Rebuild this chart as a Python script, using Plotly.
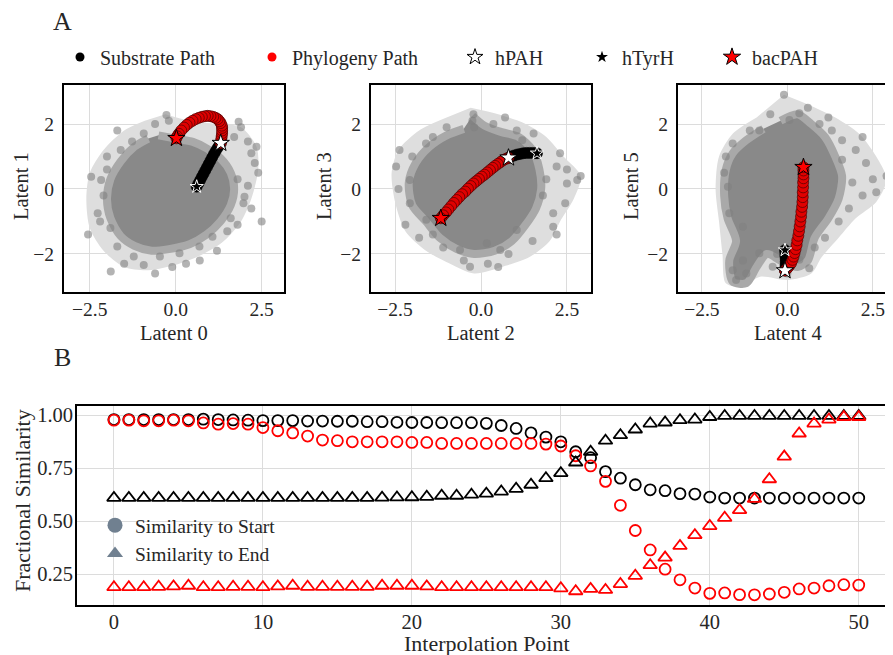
import plotly.graph_objects as go

# the page body adds an 8 px margin, so the figure is drawn 8 px smaller and offset
OFF = 8
FW, FH = 893 - OFF, 655 - OFF
FONT = "Liberation Serif, Times New Roman, Times, serif"
TXT = "#262626"
GRID = "#dcdcdc"
CORE = "#898989"
CORE_EDGE = "#a9a9a9"
HALO = "#dedede"
CLOUD = "#808080"

# ---------------- Panel A : latent-space clouds (outlines / points read approximately) -------------
# outline of the sparse (light) part of each cloud
p1_halo_x = [-0.3, 0.4, 1.2, 1.9, 2.35, 2.4, 2.2, 1.9, 1.4, 0.8, 0.1, -0.8, -1.5, -2.1, -2.5, -2.6, -2.5, -2.1, -1.5, -0.9]
p1_halo_y = [2.3, 2.1, 2.0, 1.9, 1.3, 0.6, -0.3, -1.0, -1.6, -2.0, -2.3, -2.5, -2.4, -1.9, -1.2, -0.3, 0.5, 1.2, 1.8, 2.1]
p2_halo_x = [-0.3, 0.5, 1.3, 1.9, 2.4, 2.9, 2.7, 2.3, 2.0, 1.4, 0.6, -0.2, -0.9, -1.6, -2.2, -2.5, -2.6, -2.4, -1.8, -1.0]
p2_halo_y = [2.5, 2.3, 2.0, 1.6, 1.0, 0.4, -0.3, -1.0, -1.6, -2.1, -2.4, -2.6, -2.3, -1.9, -1.3, -0.4, 0.5, 1.2, 1.8, 2.2]
p3_halo_x = [-0.1, 0.6, 1.4, 2.1, 2.6, 2.9, 2.6, 2.0, 1.5, 1.0, 0.7, 0.0, -0.8, -1.3, -1.8, -1.9, -2.0, -2.1, -2.0, -1.6, -0.9]
p3_halo_y = [2.9, 2.6, 2.2, 1.7, 1.0, 0.3, -0.4, -0.9, -1.5, -2.1, -2.6, -2.8, -2.7, -3.0, -2.9, -2.0, -1.0, 0.0, 1.0, 1.7, 2.2]

# outline of the dense (dark) core of each cloud
p1_core_x = [-0.5, 0.0, 0.5, 0.9, 1.3, 1.6, 1.7, 1.6, 1.3, 0.9, 0.4, -0.2, -0.7, -1.2, -1.6, -1.9, -2.0, -1.9, -1.6, -1.2, -0.8]
p1_core_y = [1.65, 1.55, 1.45, 1.25, 0.95, 0.5, 0.0, -0.5, -1.0, -1.4, -1.7, -1.85, -1.9, -1.75, -1.45, -0.9, -0.3, 0.3, 0.85, 1.3, 1.55]
p2_core_x = [-0.25, 0.1, 0.6, 1.1, 1.5, 1.7, 1.75, 1.6, 1.3, 0.9, 0.4, -0.2, -0.7, -1.2, -1.6, -2.0, -2.1, -1.9, -1.5, -1.0, -0.5]
p2_core_y = [2.25, 1.95, 1.75, 1.6, 1.2, 0.6, 0.0, -0.6, -1.1, -1.6, -1.9, -2.0, -1.85, -1.5, -1.0, -0.5, 0.2, 0.8, 1.3, 1.65, 1.85]
p3_core_x = [-0.2, 0.3, 0.7, 1.1, 1.4, 1.6, 1.5, 1.2, 0.8, 0.6, 0.3, -0.2, -0.6, -0.9, -1.2, -1.6, -1.7, -1.5, -1.75, -1.85,
             -1.8, -1.6, -1.2, -0.7]
p3_core_y = [2.1, 2.3, 2.0, 1.6, 1.0, 0.4, -0.3, -0.9, -1.5, -2.2, -2.4, -2.2, -2.0, -2.4, -2.9, -2.85, -2.2, -1.6, -0.9, -0.2,
             0.6, 1.1, 1.5, 1.85]

# sparse outer points of each cloud
p1_pts_x = [-2.55, -2.46, -2.17, -2.27, -2.0, -1.9, -2.1, -1.7, -1.27, -0.93, -0.6, -0.27, -0.2, 1.83, 1.9, 2.1, 2.2, 2.3,
            2.35, 1.7, 1.8, 2.0, 1.97, 2.1, 1.6, 1.5, 1.07, 0.69, 0.11, -0.46, -0.93, -1.22, -1.7, -1.89, -0.6, 0.3,
            1.2, 2.5, -1.5, -2.2, -1.6, -2.0, 2.4, 1.4, 0.7, -0.1, 1.8, 2.2]
p1_pts_y = [-1.4, 0.38, 0.28, -0.75, 0.6, -1.2, -0.2, 1.8, 1.46, 1.71, 2.0, 2.28, 2.1, 2.07, 1.9, 1.46, 1.1, 0.8,
            1.3, 1.6, 0.3, -0.24, -0.44, 0.1, -0.9, -1.3, -1.47, -1.77, -1.98, -2.08, -2.34, -2.08, -1.77, -2.54, -2.6, -2.3,
            -1.9, -1.0, -2.3, -1.0, 1.2, 1.0, 0.5, 1.9, -2.2, -2.4, -1.1, -0.6]
p2_pts_x = [-2.47, -2.37, -2.07, -2.07, -1.59, -2.2, -2.0, -1.8, -1.4, -1.0, -0.22, -0.25, -0.2, 0.36, 1.04, 1.53, 0.7,
            2.2, 2.5, 2.45, 2.1, 2.1, 2.8, 2.9, 2.5, 2.2, 1.9, 1.8, -0.61, 0.17, 0.56, -0.32, 1.04, 0.8, 0.2, -1.1, -1.4,
            1.5, 0.5, -0.5, 2.3, 1.2, -2.4, -1.6]
p2_pts_y = [0.69, 1.2, 0.28, -0.44, -0.95, -1.1, 1.0, -1.5, 1.6, 1.9, 2.3, 2.1, 1.9, 2.0, 1.8, 1.71, 2.2,
            0.69, 0.17, -0.44, -0.75, -1.16, 0.28, 0.4, 0.6, -1.4, 0.3, -0.2, -1.88, -1.67, -1.88, -2.39, -1.26, -2.0, -2.3,
            -1.8, -1.4, -1.6, -2.4, -2.2, 1.1, 1.5, 0.0, 1.4]
p3_pts_x = [-1.8, -1.74, -1.7, -1.85, -1.6, -1.3, -1.5, -1.6, -1.3, -1.2, -0.82, -0.43, 0.35, 0.64, 0.35, 0.06, -0.82,
            0.94, -0.1, 0.6, 1.3, 1.6, 2.0, 2.3, 2.5, 2.9, 2.2, 1.8, 1.5, 1.9, 1.1, 0.8, -0.3, 1.2, -0.5, 2.2, 1.6, 2.6,
            -1.1, 0.0]
p3_pts_y = [1.0, 0.07, -0.75, 0.5, 1.4, -1.16, -2.8, -2.5, -2.2, -2.6, -1.98, -2.39, -2.18, -2.44, 2.33, 2.12, 1.8,
            2.0, 2.9, 2.5, 1.8, 1.5, 1.2, 0.8, 0.3, 0.4, -0.2, -0.6, -1.0, 0.2, -1.5, -1.8, -2.0, 2.2, 2.3, 1.6, 0.9, -0.1,
            1.8, -2.6]

# interpolation paths (read along the drawn bands)
p1_sub_x = [1.31, 1.26, 1.21, 1.16, 1.11, 1.06, 1.01, 0.96, 0.91, 0.86, 0.81, 0.76, 0.71, 0.66, 0.61]
p1_sub_y = [1.41, 1.33, 1.25, 1.16, 1.07, 0.97, 0.87, 0.77, 0.67, 0.57, 0.47, 0.37, 0.27, 0.17, 0.07]
p1_phy_x = [1.31, 1.32, 1.33, 1.34, 1.35, 1.35, 1.35, 1.34, 1.31, 1.27, 1.22, 1.16, 1.09, 1.01, 0.93, 0.85, 0.76,
            0.67, 0.58, 0.49, 0.40, 0.32, 0.24, 0.16, 0.09, 0.04, 0.02]
p1_phy_y = [1.41, 1.48, 1.56, 1.64, 1.72, 1.80, 1.88, 1.95, 2.03, 2.09, 2.15, 2.19, 2.22, 2.24, 2.25, 2.24, 2.22,
            2.19, 2.15, 2.10, 2.04, 1.97, 1.89, 1.80, 1.70, 1.62, 1.56]
p2_sub_x = [0.80, 0.88, 0.96, 1.05, 1.14, 1.23, 1.32, 1.41, 1.50, 1.57, 1.63]
p2_sub_y = [0.96, 1.00, 1.03, 1.06, 1.08, 1.10, 1.11, 1.11, 1.11, 1.10, 1.10]
p2_phy_x = [0.80, 0.73, 0.65, 0.57, 0.49, 0.41, 0.34, 0.26, 0.18, 0.10, 0.02, -0.06, -0.14, -0.22, -0.30, -0.38,
            -0.46, -0.55, -0.63, -0.71, -0.79, -0.87, -0.95, -1.02, -1.10, -1.17]
p2_phy_y = [0.96, 0.93, 0.89, 0.83, 0.77, 0.71, 0.65, 0.58, 0.51, 0.44, 0.38, 0.31, 0.24, 0.17, 0.09, 0.01,
            -0.08, -0.16, -0.25, -0.34, -0.43, -0.53, -0.63, -0.72, -0.81, -0.90]
p3_sub_x = [-0.07, -0.06, -0.05, -0.05, -0.05, -0.06, -0.06, -0.07]
p3_sub_y = [-2.51, -2.42, -2.33, -2.24, -2.15, -2.06, -1.97, -1.88]
p3_phy_x = [-0.07, -0.02, 0.03, 0.07, 0.11, 0.15, 0.18, 0.21, 0.24, 0.27, 0.29, 0.32, 0.34, 0.36, 0.38, 0.40, 0.41,
            0.43, 0.44, 0.45, 0.45, 0.46, 0.46, 0.47, 0.47, 0.47, 0.47]
p3_phy_y = [-2.51, -2.46, -2.40, -2.34, -2.28, -2.18, -2.08, -1.97, -1.85, -1.72, -1.58, -1.44, -1.30, -1.15, -1.00,
            -0.85, -0.70, -0.55, -0.40, -0.25, -0.10, 0.05, 0.20, 0.33, 0.45, 0.57, 0.67]

# reference proteins in each latent pair
hPAH_x = [1.31, 0.80, -0.07]
hPAH_y = [1.41, 0.96, -2.51]
hTyrH_x = [0.61, 1.63, -0.07]
hTyrH_y = [0.07, 1.10, -1.88]
bacPAH_x = [0.02, -1.17, 0.47]
bacPAH_y = [1.56, -0.90, 0.67]

latent_x_labels = ["Latent 0", "Latent 2", "Latent 4"]
latent_y_labels = ["Latent 1", "Latent 3", "Latent 5"]

# ---------------- Panel B : fractional similarity ----------------
interp = list(range(51))
sub_start = [0.980, 0.980, 0.980, 0.980, 0.980, 0.980, 0.982, 0.980, 0.978, 0.977,
             0.975, 0.975, 0.975, 0.973, 0.973, 0.972, 0.972, 0.970, 0.970, 0.967,
             0.966, 0.966, 0.965, 0.965, 0.965, 0.962, 0.952, 0.938, 0.917, 0.897,
             0.875, 0.828, 0.800, 0.734, 0.703, 0.672, 0.648, 0.644, 0.630, 0.628,
             0.614, 0.609, 0.609, 0.609, 0.609, 0.609, 0.609, 0.609, 0.609, 0.609, 0.609]
phy_start = [0.977, 0.977, 0.974, 0.974, 0.977, 0.974, 0.964, 0.958, 0.961, 0.958,
             0.942, 0.927, 0.917, 0.902, 0.883, 0.880, 0.875, 0.875, 0.875, 0.875,
             0.872, 0.872, 0.867, 0.867, 0.867, 0.867, 0.867, 0.867, 0.867, 0.864,
             0.855, 0.809, 0.761, 0.688, 0.575, 0.456, 0.364, 0.273, 0.223, 0.184,
             0.159, 0.161, 0.153, 0.152, 0.156, 0.164, 0.180, 0.184, 0.195, 0.200, 0.198]
sub_end = [0.610, 0.610, 0.610, 0.610, 0.610, 0.610, 0.610, 0.610, 0.610, 0.610,
           0.610, 0.610, 0.610, 0.610, 0.610, 0.610, 0.610, 0.610, 0.611, 0.612,
           0.613, 0.615, 0.620, 0.620, 0.625, 0.630, 0.640, 0.653, 0.672, 0.703,
           0.727, 0.777, 0.828, 0.880, 0.906, 0.933, 0.961, 0.966, 0.977, 0.980,
           0.992, 0.997, 0.997, 0.997, 0.997, 0.997, 0.997, 0.997, 0.997, 0.997, 0.997]
phy_end = [0.188, 0.188, 0.188, 0.190, 0.192, 0.195, 0.188, 0.188, 0.190, 0.190,
           0.188, 0.192, 0.195, 0.190, 0.190, 0.190, 0.190, 0.190, 0.195, 0.195,
           0.195, 0.192, 0.188, 0.188, 0.188, 0.188, 0.188, 0.188, 0.188, 0.188,
           0.183, 0.169, 0.180, 0.175, 0.203, 0.242, 0.292, 0.328, 0.383, 0.434,
           0.477, 0.516, 0.552, 0.605, 0.698, 0.805, 0.914, 0.961, 0.980, 0.992, 0.992]

# ---------------- figure ----------------
fig = go.Figure()

halos = [(p1_halo_x, p1_halo_y), (p2_halo_x, p2_halo_y), (p3_halo_x, p3_halo_y)]
cores = [(p1_core_x, p1_core_y), (p2_core_x, p2_core_y), (p3_core_x, p3_core_y)]
pts = [(p1_pts_x, p1_pts_y), (p2_pts_x, p2_pts_y), (p3_pts_x, p3_pts_y)]
subs = [(p1_sub_x, p1_sub_y), (p2_sub_x, p2_sub_y), (p3_sub_x, p3_sub_y)]
phys = [(p1_phy_x, p1_phy_y), (p2_phy_x, p2_phy_y), (p3_phy_x, p3_phy_y)]

for i in range(3):
    xa = "x" if i == 0 else f"x{i+1}"
    ya = "y" if i == 0 else f"y{i+1}"
    fig.add_trace(go.Scatter(x=halos[i][0], y=halos[i][1], mode="lines", fill="toself", fillcolor=HALO,
                             line=dict(color="rgba(0,0,0,0)", width=0, shape="spline", smoothing=0.8),
                             xaxis=xa, yaxis=ya, showlegend=False, hoverinfo="skip"))
    fig.add_trace(go.Scatter(x=cores[i][0], y=cores[i][1], mode="lines", fill="toself", fillcolor=CORE,
                             line=dict(color=CORE_EDGE, width=8, shape="spline", smoothing=0.8),
                             xaxis=xa, yaxis=ya, showlegend=False, hoverinfo="skip"))
    fig.add_trace(go.Scatter(x=pts[i][0], y=pts[i][1], mode="markers", xaxis=xa, yaxis=ya,
                             marker=dict(color=CLOUD, size=8, opacity=0.6, line=dict(width=0)),
                             showlegend=False, hoverinfo="skip"))
    fig.add_trace(go.Scatter(x=subs[i][0], y=subs[i][1], mode="markers", xaxis=xa, yaxis=ya,
                             marker=dict(color="black", size=11, line=dict(color="black", width=0.6)),
                             showlegend=False, name="Substrate Path"))
    fig.add_trace(go.Scatter(x=phys[i][0], y=phys[i][1], mode="markers", xaxis=xa, yaxis=ya,
                             marker=dict(color="#e00000", size=11, line=dict(color="#4a0000", width=0.7)),
                             showlegend=False, name="Phylogeny Path"))
    fig.add_trace(go.Scatter(x=[hTyrH_x[i]], y=[hTyrH_y[i]], mode="markers", xaxis=xa, yaxis=ya,
                             marker=dict(symbol="star", color="black", size=10, line=dict(color="white", width=1)),
                             showlegend=False, name="hTyrH"))
    fig.add_trace(go.Scatter(x=[hPAH_x[i]], y=[hPAH_y[i]], mode="markers", xaxis=xa, yaxis=ya,
                             marker=dict(symbol="star", color="white", size=13, line=dict(color="black", width=1)),
                             showlegend=False, name="hPAH"))
    fig.add_trace(go.Scatter(x=[bacPAH_x[i]], y=[bacPAH_y[i]], mode="markers", xaxis=xa, yaxis=ya,
                             marker=dict(symbol="star", color="red", size=13, line=dict(color="black", width=1)),
                             showlegend=False, name="bacPAH"))

# legend entries for panel A
leg_specs = [
    ("Substrate Path", dict(symbol="circle", color="black", size=9), "legend"),
    ("Phylogeny Path", dict(symbol="circle", color="red", size=9), "legend2"),
    ("hPAH", dict(symbol="star", color="white", size=12, line=dict(color="black", width=1)), "legend3"),
    ("hTyrH", dict(symbol="star", color="black", size=9), "legend4"),
    ("bacPAH", dict(symbol="star", color="red", size=13, line=dict(color="black", width=1)), "legend5"),
]
for name, mk, lg in leg_specs:
    fig.add_trace(go.Scatter(x=[None], y=[None], mode="markers", name=name, marker=mk,
                             legend=lg, xaxis="x", yaxis="y", showlegend=True))

# Panel B
fig.add_trace(go.Scatter(x=interp, y=sub_start, mode="markers", xaxis="x4", yaxis="y4", showlegend=False,
                         marker=dict(symbol="circle-open", color="black", size=11, line=dict(width=1.8))))
fig.add_trace(go.Scatter(x=interp, y=phy_start, mode="markers", xaxis="x4", yaxis="y4", showlegend=False,
                         marker=dict(symbol="circle-open", color="red", size=11, line=dict(width=1.8))))
fig.add_trace(go.Scatter(x=interp, y=sub_end, mode="markers", xaxis="x4", yaxis="y4", showlegend=False,
                         marker=dict(symbol="triangle-up-open", color="black", size=12, line=dict(width=1.8))))
fig.add_trace(go.Scatter(x=interp, y=phy_end, mode="markers", xaxis="x4", yaxis="y4", showlegend=False,
                         marker=dict(symbol="triangle-up-open", color="red", size=12, line=dict(width=1.8))))
fig.add_trace(go.Scatter(x=[None], y=[None], mode="markers", name="Similarity to Start", legend="legend6",
                         xaxis="x4", yaxis="y4", marker=dict(symbol="circle", color="slategray", size=15)))
fig.add_trace(go.Scatter(x=[None], y=[None], mode="markers", name="Similarity to End", legend="legend6",
                         xaxis="x4", yaxis="y4", marker=dict(symbol="triangle-up", color="slategray", size=14)))


def px_x(p):
    return (p - OFF) / FW


def px_y(p):
    return 1 - (p - OFF) / FH


def top_x(dom, rng, anchor, mirror=True):
    return dict(domain=dom, range=rng, anchor=anchor, tickvals=[-2.5, 0, 2.5], tickformat=".1f",
                showgrid=True, gridcolor=GRID, gridwidth=1.3, zeroline=False, automargin=False,
                showline=True, linecolor="black", linewidth=2, mirror=mirror, ticks="",
                ticklabelstandoff=-1, tickfont=dict(family=FONT, size=19.5, color=TXT))


def top_y(rng, anchor, mirror=True):
    return dict(domain=[px_y(292), px_y(85)], range=rng, anchor=anchor, tickvals=[-2, 0, 2],
                showgrid=True, gridcolor=GRID, gridwidth=1.3, zeroline=False, automargin=False,
                showline=True, linecolor="black", linewidth=2, mirror=mirror, ticks="",
                ticklabelstandoff=4, tickfont=dict(family=FONT, size=19.5, color=TXT))


leg_common = dict(orientation="h", yanchor="middle", xanchor="left", bgcolor="rgba(0,0,0,0)",
                  borderwidth=0, font=dict(family=FONT, size=20, color=TXT), itemsizing="trace")
leg_y = px_y(57)

fig.update_layout(
    template="none",
    width=FW, height=FH,
    margin=dict(l=0, r=0, t=0, b=0, pad=0),
    paper_bgcolor="white", plot_bgcolor="white",
    font=dict(family=FONT, color=TXT),
    xaxis=top_x([px_x(64), px_x(284)], [-3.25, 3.15], "y"),
    yaxis=top_y([-3.17, 3.2], "x"),
    xaxis2=top_x([px_x(371), px_x(591)], [-3.2, 3.2], "y2"),
    yaxis2=top_y([-3.17, 3.2], "x2"),
    xaxis3=top_x([px_x(678), 1.0], [-3.2, 3.09], "y3"),
    yaxis3=top_y([-3.17, 3.2], "x3", mirror=False),
    xaxis4=dict(domain=[px_x(77), 1.0], range=[-2.48, 52.3], anchor="y4", tickvals=[0, 10, 20, 30, 40, 50],
                showgrid=True, gridcolor=GRID, gridwidth=1.3, zeroline=False, automargin=False,
                showline=True, linecolor="black", linewidth=1.8, mirror=True, ticks="",
                ticklabelstandoff=-3, tickfont=dict(family=FONT, size=20.5, color=TXT)),
    yaxis4=dict(domain=[px_y(605), px_y(406)], range=[0.104, 1.044], anchor="x4",
                tickvals=[0.25, 0.5, 0.75, 1.0], tickformat=".2f", automargin=False,
                showgrid=True, gridcolor=GRID, gridwidth=1.3, zeroline=False,
                showline=True, linecolor="black", linewidth=1.8, mirror=False, ticks="",
                ticklabelstandoff=-2, tickfont=dict(family=FONT, size=20.5, color=TXT)),
    legend=dict(leg_common, x=px_x(60), y=leg_y),
    legend2=dict(leg_common, x=px_x(252), y=leg_y),
    legend3=dict(leg_common, x=px_x(455), y=leg_y),
    legend4=dict(leg_common, x=px_x(582), y=leg_y),
    legend5=dict(leg_common, x=px_x(712), y=leg_y),
    legend6=dict(orientation="v", yanchor="top", xanchor="left", bgcolor="rgba(0,0,0,0)", borderwidth=0,
                 x=px_x(95), y=px_y(506), font=dict(family=FONT, size=19.5, color=TXT), itemsizing="trace"),
)

ann = []
centers_x = [174, 481, 788]
centers_yl = [21, 324, 631]
for i in range(3):
    ann.append(dict(text=latent_x_labels[i], x=px_x(centers_x[i]), y=px_y(333), xref="paper", yref="paper",
                    showarrow=False, xanchor="center", yanchor="middle", font=dict(family=FONT, size=20.5, color=TXT)))
    ann.append(dict(text=latent_y_labels[i], x=px_x(centers_yl[i]), y=px_y(186), xref="paper", yref="paper",
                    showarrow=False, xanchor="center", yanchor="middle", textangle=-90,
                    font=dict(family=FONT, size=20.5, color=TXT)))
ann.append(dict(text="Interpolation Point", x=px_x(487), y=px_y(643), xref="paper", yref="paper", showarrow=False,
                xanchor="center", yanchor="middle", font=dict(family=FONT, size=22, color=TXT)))
ann.append(dict(text="Fractional Similarity", x=px_x(22), y=px_y(501), xref="paper", yref="paper", showarrow=False,
                xanchor="center", yanchor="middle", textangle=-90, font=dict(family=FONT, size=22, color=TXT)))
ann.append(dict(text="A", x=px_x(62), y=px_y(22), xref="paper", yref="paper", showarrow=False,
                xanchor="center", yanchor="middle", font=dict(family=FONT, size=26, color=TXT)))
ann.append(dict(text="B", x=px_x(62), y=px_y(357), xref="paper", yref="paper", showarrow=False,
                xanchor="center", yanchor="middle", font=dict(family=FONT, size=26, color=TXT)))
fig.update_layout(annotations=ann)

fig.write_html("out.html")
